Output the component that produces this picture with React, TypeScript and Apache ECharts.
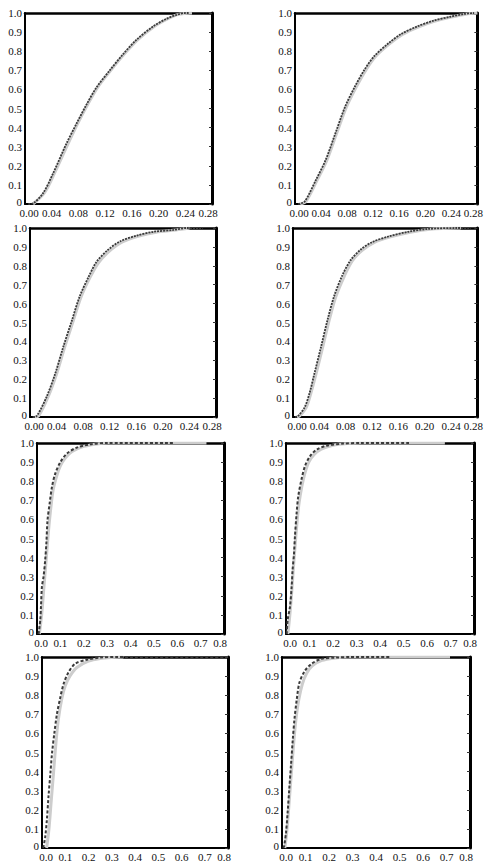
import React, { useEffect, useRef } from "react";
import * as echarts from "echarts";

// ---- tick labels ----
const yTickLabels = ["0", "0.1", "0.2", "0.3", "0.4", "0.5", "0.6", "0.7", "0.8", "0.9", "1.0"];
const xTickLabelsFine = ["0.00", "0.04", "0.08", "0.12", "0.16", "0.20", "0.24", "0.28"];
const xTickLabelsCoarse = ["0.0", "0.1", "0.2", "0.3", "0.4", "0.5", "0.6", "0.7", "0.8"];

// ---- data (x, cumulative probability) ----
const p1Dark: [number, number][] = [[0.005, 0], [0.0125, 0.004], [0.027, 0.056], [0.042, 0.16], [0.062, 0.316], [0.077, 0.42], [0.092, 0.52], [0.107, 0.61], [0.127, 0.7], [0.147, 0.785], [0.167, 0.86], [0.192, 0.93], [0.212, 0.97], [0.227, 0.99], [0.24, 1.0], [0.245, 1.0]];
const p1Gray: [number, number][] = [[0.012, 0], [0.029, 0.058], [0.044, 0.16], [0.064, 0.312], [0.079, 0.422], [0.094, 0.522], [0.109, 0.612], [0.129, 0.702], [0.149, 0.786], [0.169, 0.86], [0.194, 0.93], [0.214, 0.97], [0.23, 0.993], [0.25, 1.0]];
const p2Dark: [number, number][] = [[0.005, 0], [0.0146, 0.012], [0.032, 0.125], [0.047, 0.23], [0.062, 0.37], [0.077, 0.51], [0.092, 0.615], [0.107, 0.705], [0.122, 0.775], [0.143, 0.84], [0.163, 0.89], [0.188, 0.93], [0.213, 0.96], [0.238, 0.98], [0.26, 0.995], [0.275, 1.0]];
const p2Gray: [number, number][] = [[0.008, 0], [0.017, 0.014], [0.034, 0.125], [0.049, 0.23], [0.064, 0.37], [0.079, 0.508], [0.094, 0.612], [0.109, 0.702], [0.124, 0.773], [0.145, 0.838], [0.165, 0.888], [0.19, 0.928], [0.215, 0.958], [0.24, 0.979], [0.262, 0.994], [0.28, 1.0]];
const p3Dark: [number, number][] = [[0.004, 0], [0.01, 0.005], [0.025, 0.107], [0.038, 0.23], [0.05, 0.37], [0.063, 0.51], [0.075, 0.64], [0.088, 0.74], [0.1, 0.82], [0.116, 0.88], [0.136, 0.93], [0.161, 0.96], [0.186, 0.98], [0.216, 0.99], [0.236, 1.0], [0.26, 1.0]];
const p3Gray: [number, number][] = [[0.007, 0], [0.013, 0.006], [0.027, 0.105], [0.04, 0.228], [0.052, 0.368], [0.065, 0.508], [0.077, 0.636], [0.09, 0.736], [0.103, 0.816], [0.119, 0.876], [0.139, 0.926], [0.164, 0.958], [0.19, 0.978], [0.22, 0.99], [0.24, 1.0]];
const p4Dark: [number, number][] = [[0.003, 0], [0.0075, 0.005], [0.0175, 0.05], [0.025, 0.125], [0.0325, 0.23], [0.0425, 0.37], [0.0525, 0.515], [0.0625, 0.64], [0.075, 0.75], [0.0875, 0.83], [0.1025, 0.885], [0.12, 0.925], [0.145, 0.955], [0.175, 0.98], [0.205, 0.995], [0.25, 1.0], [0.27, 1.0]];
const p4Gray: [number, number][] = [[0.006, 0], [0.01, 0.006], [0.02, 0.05], [0.027, 0.124], [0.035, 0.228], [0.045, 0.368], [0.055, 0.512], [0.065, 0.636], [0.078, 0.746], [0.09, 0.826], [0.105, 0.882], [0.123, 0.923], [0.148, 0.953], [0.178, 0.978], [0.208, 0.994], [0.255, 1.0]];
const p5Dark: [number, number][] = [[0.007, 0], [0.014, 0.073], [0.017, 0.143], [0.021, 0.247], [0.028, 0.3], [0.035, 0.387], [0.04, 0.474], [0.045, 0.596], [0.054, 0.683], [0.064, 0.77], [0.078, 0.84], [0.1, 0.9], [0.128, 0.945], [0.17, 0.976], [0.228, 0.993], [0.3, 1.0], [0.585, 1.0]];
const p5Gray: [number, number][] = [[0.01, 0], [0.02, 0.1], [0.03, 0.25], [0.04, 0.4], [0.05, 0.55], [0.06, 0.67], [0.07, 0.76], [0.085, 0.83], [0.1, 0.88], [0.12, 0.92], [0.15, 0.955], [0.2, 0.982], [0.25, 0.994], [0.3, 1.0], [0.725, 1.0]];
const p6Dark: [number, number][] = [[0.003, 0], [0.007, 0.073], [0.017, 0.143], [0.024, 0.247], [0.028, 0.335], [0.034, 0.42], [0.038, 0.51], [0.045, 0.63], [0.052, 0.72], [0.066, 0.81], [0.081, 0.88], [0.102, 0.93], [0.13, 0.965], [0.173, 0.986], [0.244, 0.997], [0.315, 1.0], [0.53, 1.0]];
const p6Gray: [number, number][] = [[0.008, 0], [0.015, 0.08], [0.022, 0.18], [0.03, 0.32], [0.038, 0.45], [0.046, 0.57], [0.055, 0.68], [0.067, 0.77], [0.08, 0.84], [0.097, 0.9], [0.12, 0.94], [0.15, 0.968], [0.2, 0.988], [0.26, 0.997], [0.32, 1.0], [0.676, 1.0]];
const p7Dark: [number, number][] = [[0.005, 0], [0.007, 0.01], [0.014, 0.06], [0.021, 0.148], [0.028, 0.27], [0.036, 0.39], [0.043, 0.495], [0.053, 0.6], [0.064, 0.7], [0.079, 0.79], [0.093, 0.86], [0.114, 0.92], [0.143, 0.965], [0.193, 0.986], [0.25, 0.997], [0.32, 1.0], [0.8, 1.0]];
const p7Gray: [number, number][] = [[0.02, 0], [0.03, 0.1], [0.04, 0.25], [0.05, 0.4], [0.06, 0.55], [0.07, 0.67], [0.085, 0.78], [0.1, 0.85], [0.12, 0.9], [0.15, 0.945], [0.2, 0.978], [0.25, 0.992], [0.3, 0.998], [0.35, 1.0]];
const p8Dark: [number, number][] = [[0.005, 0], [0.009, 0.01], [0.017, 0.08], [0.024, 0.187], [0.031, 0.31], [0.038, 0.43], [0.046, 0.57], [0.053, 0.675], [0.063, 0.78], [0.074, 0.865], [0.096, 0.925], [0.124, 0.963], [0.167, 0.99], [0.23, 0.997], [0.29, 1.0], [0.46, 1.0]];
const p8Gray: [number, number][] = [[0.012, 0], [0.02, 0.08], [0.028, 0.2], [0.036, 0.33], [0.044, 0.46], [0.052, 0.58], [0.06, 0.68], [0.072, 0.78], [0.087, 0.86], [0.105, 0.915], [0.13, 0.955], [0.17, 0.982], [0.22, 0.994], [0.28, 1.0], [0.715, 1.0]];

type Panel = {
  rect: [number, number, number, number];
  fine: boolean;
  dark: [number, number][];
  gray: [number, number][];
};

const panels: Panel[] = [
  { rect: [25, 13, 187, 191], fine: true, dark: p1Dark, gray: p1Gray },
  { rect: [295, 13, 186, 191], fine: true, dark: p2Dark, gray: p2Gray },
  { rect: [30, 228, 186, 189], fine: true, dark: p3Dark, gray: p3Gray },
  { rect: [293, 228, 187, 189], fine: true, dark: p4Dark, gray: p4Gray },
  { rect: [37, 443, 187, 191], fine: false, dark: p5Dark, gray: p5Gray },
  { rect: [286, 443, 188, 191], fine: false, dark: p6Dark, gray: p6Gray },
  { rect: [42, 657, 186, 191], fine: false, dark: p7Dark, gray: p7Gray },
  { rect: [282, 657, 188, 192], fine: false, dark: p8Dark, gray: p8Gray },
];

const FONT = "Liberation Serif";
const txt = { fontFamily: FONT, fontSize: 11, color: "#111" };

export default function App() {
  const ref = useRef<HTMLDivElement>(null);
  useEffect(() => {
    if (!ref.current) return;
    const chart = echarts.init(ref.current, undefined, { renderer: "svg" });
    const grid: any[] = [];
    const xAxis: any[] = [];
    const yAxis: any[] = [];
    const series: any[] = [];
    panels.forEach((p, i) => {
      const [l, t, w, h] = p.rect;
      grid.push({ left: l, top: t, width: w, height: h, containLabel: false });
      const step = p.fine ? 0.04 : 0.1;
      const xMax = p.fine ? 0.28 : 0.8;
      const xLabels = p.fine ? xTickLabelsFine : xTickLabelsCoarse;
      xAxis.push({
        type: "value",
        gridIndex: i,
        position: "bottom",
        min: 0,
        max: xMax,
        interval: step,
        axisLine: { show: true, onZero: false, lineStyle: { color: "#000", width: 2 } },
        axisTick: { show: false },
        splitLine: { show: false },
        axisLabel: {
          ...txt,
          margin: 3,
          showMinLabel: true,
          showMaxLabel: true,
          hideOverlap: false,
          rich: {
            first: { ...txt, padding: [0, 0, 0, 8] },
            last: { ...txt, padding: [0, 8, 0, 0] },
          },
          formatter: (v: number) => {
            const k = Math.round(v / step);
            const s = xLabels[k] ?? "";
            if (k === 0) return `{first|${s}}`;
            if (k === xLabels.length - 1) return `{last|${s}}`;
            return s;
          },
        },
      });
      xAxis.push({
        type: "value",
        gridIndex: i,
        position: "top",
        min: 0,
        max: xMax,
        interval: step,
        axisLine: { show: true, onZero: false, lineStyle: { color: "#000", width: 2.5 } },
        axisTick: { show: false },
        splitLine: { show: false },
        axisLabel: { show: false },
      });
      yAxis.push({
        type: "value",
        gridIndex: i,
        position: "left",
        min: 0,
        max: 1,
        interval: 0.1,
        axisLine: { show: true, onZero: false, lineStyle: { color: "#000", width: 2 } },
        axisTick: { show: false },
        splitLine: { show: false },
        axisLabel: {
          ...txt,
          margin: 3,
          showMinLabel: true,
          showMaxLabel: true,
          rich: { zero: { ...txt, padding: [0, 0, 5, 0] } },
          formatter: (v: number) => {
            const k = Math.round(v * 10);
            const s = yTickLabels[k] ?? "";
            return k === 0 ? `{zero|${s}}` : s;
          },
        },
      });
      yAxis.push({
        type: "value",
        gridIndex: i,
        position: "right",
        min: 0,
        max: 1,
        interval: 0.1,
        axisLine: { show: true, onZero: false, lineStyle: { color: "#000", width: 3 } },
        axisTick: { show: true, inside: true, length: 3, lineStyle: { color: "#333", width: 1 } },
        splitLine: { show: false },
        axisLabel: { show: false },
      });
      series.push({
        type: "line",
        xAxisIndex: i * 2,
        yAxisIndex: i * 2,
        data: p.gray,
        symbol: "none",
        showSymbol: false,
        smooth: 0.3,
        z: 3,
        lineStyle: { color: "#cdcdcd", width: 3 },
      });
      series.push({
        type: "line",
        xAxisIndex: i * 2,
        yAxisIndex: i * 2,
        data: p.dark,
        symbol: "none",
        showSymbol: false,
        smooth: 0.3,
        z: 4,
        lineStyle: {
          color: "#3a3a3a",
          width: p.fine ? 1.8 : 2,
          type: p.fine ? [2, 1] : [3, 2],
        },
      });
    });
    chart.setOption({
      animation: false,
      backgroundColor: "#fff",
      grid,
      xAxis,
      yAxis,
      series,
    });
    return () => chart.dispose();
  }, []);
  return (
    <div
      ref={ref}
      style={{ position: "fixed", left: 0, top: 0, width: 486, height: 862, background: "#fff" }}
    />
  );
}
